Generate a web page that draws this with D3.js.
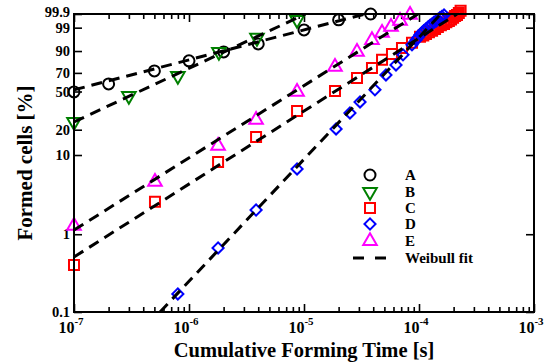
<!DOCTYPE html>
<html>
<head>
<meta charset="utf-8">
<script src="https://cdn.jsdelivr.net/npm/d3@7"></script>
<style>
  body { margin: 0; background: #fff; }
  svg text { font-family: "Liberation Serif", "Times New Roman", serif; font-weight: bold; fill: #000; }
</style>
</head>
<body>
<div id="container"></div>
<script>
// series data: time [s] and formed cells [%]
const timeA = [1e-7, 2e-7, 5e-7, 1e-6, 2e-6, 4e-6, 1e-5, 2e-5, 3.8e-5];
const formedA = [49.6, 58.0, 72.1, 82.1, 89.4, 94.2, 98.66, 99.70, 99.9];

const timeB = [1e-7, 3.0e-7, 8.0e-7, 1.82e-6, 3.9e-6, 8.7e-6];
const formedB = [24.5, 45.6, 66.7, 89.4, 96.7, 99.7];

const timeC = [1e-7, 5.06e-7, 1.79e-6, 3.83e-6, 8.7e-6, 1.86e-5, 2.89e-5, 3.9e-5, 4.77e-5, 5.82e-5, 7.11e-5, 8.69e-5,
  1.02e-4, 1.09e-4, 1.15e-4, 1.22e-4, 1.30e-4, 1.38e-4, 1.46e-4, 1.55e-4, 1.65e-4, 1.73e-4, 1.82e-4, 1.90e-4, 1.98e-4, 2.06e-4, 2.14e-4, 2.22e-4, 2.3e-4];
const formedC = [0.403, 2.6, 8.2, 16.5, 32.2, 50.6, 64.6, 75.2, 83.0, 87.9, 92.0, 94.7,
  97.0, 97.4, 97.8, 98.2, 98.5, 98.8, 99.1, 99.3, 99.42, 99.55, 99.64, 99.72, 99.79, 99.85, 99.88, 99.92, 99.95];

const timeD = [8.0e-7, 1.79e-6, 3.83e-6, 8.7e-6, 1.9e-5, 2.51e-5, 3.07e-5, 4.14e-5, 5.16e-5, 6.31e-5, 7.26e-5, 8.69e-5,
  9.42e-5, 9.8e-5, 1.02e-4, 1.06e-4, 1.10e-4, 1.15e-4, 1.20e-4, 1.25e-4, 1.30e-4, 1.35e-4, 1.41e-4, 1.46e-4, 1.52e-4, 1.58e-4, 1.65e-4];
const formedD = [0.171, 0.667, 2.04, 6.73, 20.4, 30.7, 39.9, 51.7, 67.8, 78.2, 87.2, 93.7,
  95.9, 96.8, 97.6, 98.1, 98.5, 98.8, 99.1, 99.3, 99.42, 99.55, 99.64, 99.72, 99.79, 99.84, 99.88];

const timeE = [1e-7, 5.06e-7, 1.79e-6, 3.83e-6, 8.7e-6, 1.86e-5, 2.89e-5, 3.9e-5, 4.77e-5, 5.71e-5, 6.84e-5, 8.36e-5];
const formedE = [1.28, 4.63, 12.9, 25.8, 49.6, 76.3, 89.4, 95.9, 98.06, 99.1, 99.64, 99.88];

// Weibull fit lines, two end points each
const fitTimeA = [1e-7, 3.39e-5],  fitFormedA = [51.7, 99.9];
const fitTimeB = [1e-7, 1.03e-5],  fitFormedB = [24.5, 99.9];
const fitTimeC = [1e-7, 2.14e-4],  fitFormedC = [0.51, 99.9];
const fitTimeD = [5.6e-7, 1.55e-4], fitFormedD = [0.1, 99.9];
const fitTimeE = [1e-7, 9.8e-5],   fitFormedE = [1.13, 99.9];

const seriesNames = ["A", "B", "C", "D", "E"];
const seriesColors = ["#000000", "#008000", "#ff0000", "#0000ff", "#ff00ff"];

const xTicks = [1e-7, 1e-6, 1e-5, 1e-4, 1e-3];
const xTickExp = ["-7", "-6", "-5", "-4", "-3"];
const yTicks = [0.1, 1, 10, 20, 50, 70, 90, 99, 99.9];
const yTickLabels = ["0.1", "1", "10", "20", "50", "70", "90", "99", "99.9"];

const width = 557, height = 363;
const margin = {top: 14, right: 23, bottom: 51, left: 74};

// weibull transform of a percentage
const weib = p => Math.log(-Math.log(1 - p / 100));

const xScale = d3.scaleLog()
  .domain([1e-7, 1e-3])
  .range([margin.left, width - margin.right]);

const wScale = d3.scaleLinear()
  .domain([weib(0.1), weib(99.9)])
  .range([height - margin.bottom, margin.top]);

const yPos = p => wScale(weib(p));

const svg = d3.select("#container").append("svg")
  .attr("width", width)
  .attr("height", height);

svg.append("clipPath").attr("id", "plotClip")
  .append("rect")
  .attr("x", margin.left).attr("y", margin.top)
  .attr("width", width - margin.left - margin.right)
  .attr("height", height - margin.top - margin.bottom);

// AXES (ticks inside)
const minorTicks = [];
for (let e = -7; e < -3; e++) for (let k = 2; k <= 9; k++) minorTicks.push(k * Math.pow(10, e));

const bottomY = height - margin.bottom, rightX = width - margin.right;

function styleAxis(g) {
  g.select(".domain").remove();
  g.selectAll("line").attr("stroke", "#000").attr("stroke-width", 1.6);
  g.selectAll("text").remove();
}

svg.append("g").attr("transform", `translate(0,${bottomY})`)
  .call(d3.axisBottom(xScale).tickValues(xTicks).tickSize(-8)).call(styleAxis);
svg.append("g").attr("transform", `translate(0,${bottomY})`)
  .call(d3.axisBottom(xScale).tickValues(minorTicks).tickSize(-5)).call(styleAxis);
svg.append("g").attr("transform", `translate(0,${margin.top})`)
  .call(d3.axisTop(xScale).tickValues(xTicks).tickSize(-8)).call(styleAxis);
svg.append("g").attr("transform", `translate(0,${margin.top})`)
  .call(d3.axisTop(xScale).tickValues(minorTicks).tickSize(-5)).call(styleAxis);
svg.append("g").attr("transform", `translate(${margin.left},0)`)
  .call(d3.axisLeft(wScale).tickValues(yTicks.map(weib)).tickSize(-8)).call(styleAxis);
svg.append("g").attr("transform", `translate(${rightX},0)`)
  .call(d3.axisRight(wScale).tickValues(yTicks.map(weib)).tickSize(-8)).call(styleAxis);

// tick labels
const xLab = svg.append("g").selectAll("text")
  .data(xTicks)
  .join("text")
  .attr("x", d => xScale(d) - 3)
  .attr("y", bottomY + 21)
  .attr("text-anchor", "middle")
  .style("font-size", "16px");
xLab.append("tspan").text("10");
xLab.append("tspan")
  .attr("dy", -8)
  .style("font-size", "11px")
  .text((d, i) => xTickExp[i]);

svg.append("g").selectAll("text")
  .data(yTicks)
  .join("text")
  .attr("x", margin.left - 4)
  .attr("y", (d, i) => yPos(d) - (i === yTicks.length - 1 ? 2 : 0))
  .attr("dy", "0.35em")
  .attr("text-anchor", "end")
  .style("font-size", "14.5px")
  .text((d, i) => yTickLabels[i]);

// axis titles
svg.append("text")
  .attr("x", (margin.left + rightX) / 2)
  .attr("y", height - 6)
  .attr("text-anchor", "middle")
  .style("font-size", "20.5px")
  .text("Cumulative Forming Time [s]");

svg.append("text")
  .attr("transform", `translate(32,${(margin.top + bottomY) / 2}) rotate(-90)`)
  .attr("text-anchor", "middle")
  .style("font-size", "21px")
  .text("Formed cells [%]");

// MARKERS
const shapes = [
  d3.symbol().type(d3.symbolCircle).size(95),
  d3.symbol().type(d3.symbolTriangle).size(80),
  d3.symbol().type(d3.symbolSquare).size(100),
  d3.symbol().type(d3.symbolSquare).size(62),
  d3.symbol().type(d3.symbolTriangle).size(80)
];
const rotations = [0, 180, 0, 45, 0];

const times = [timeA, timeB, timeC, timeD, timeE];
const formed = [formedA, formedB, formedC, formedD, formedE];

times.forEach((ts, s) => {
  svg.append("g").selectAll("path")
    .data(ts.map((t, i) => ({t: t, p: formed[s][i]})))
    .join("path")
    .attr("d", shapes[s])
    .attr("transform", d => `translate(${xScale(d.t)},${yPos(d.p)}) rotate(${rotations[s]})`)
    .attr("fill", "none")
    .attr("stroke", seriesColors[s])
    .attr("stroke-width", 2);
});

// FIT LINES
const fitTimes = [fitTimeA, fitTimeB, fitTimeC, fitTimeD, fitTimeE];
const fitFormed = [fitFormedA, fitFormedB, fitFormedC, fitFormedD, fitFormedE];

const lineGen = d3.line()
  .x(d => xScale(d.t))
  .y(d => yPos(d.p));

svg.append("g").attr("clip-path", "url(#plotClip)")
  .selectAll("path")
  .data(fitTimes.map((ts, s) => ts.map((t, i) => ({t: t, p: fitFormed[s][i]}))))
  .join("path")
  .attr("d", lineGen)
  .attr("fill", "none")
  .attr("stroke", "#000")
  .attr("stroke-width", 3)
  .attr("stroke-dasharray", "11,7");

// frame
svg.append("rect")
  .attr("x", margin.left).attr("y", margin.top)
  .attr("width", rightX - margin.left)
  .attr("height", bottomY - margin.top)
  .attr("fill", "none")
  .attr("stroke", "#000")
  .attr("stroke-width", 2);

// LEGEND
const legendY = [175, 192, 208, 224, 241];
seriesNames.forEach((name, s) => {
  svg.append("path")
    .attr("d", shapes[s])
    .attr("transform", `translate(370,${legendY[s]}) rotate(${rotations[s]})`)
    .attr("fill", "none")
    .attr("stroke", seriesColors[s])
    .attr("stroke-width", 2);
  svg.append("text")
    .attr("x", 405).attr("y", legendY[s])
    .attr("dy", "0.35em")
    .style("font-size", "15px")
    .text(name);
});
svg.append("line")
  .attr("x1", 353).attr("x2", 388)
  .attr("y1", 258).attr("y2", 258)
  .attr("stroke", "#000")
  .attr("stroke-width", 3)
  .attr("stroke-dasharray", "11,11");
svg.append("text")
  .attr("x", 405).attr("y", 258)
  .attr("dy", "0.35em")
  .style("font-size", "15px")
  .text("Weibull fit");
</script>
</body>
</html>
